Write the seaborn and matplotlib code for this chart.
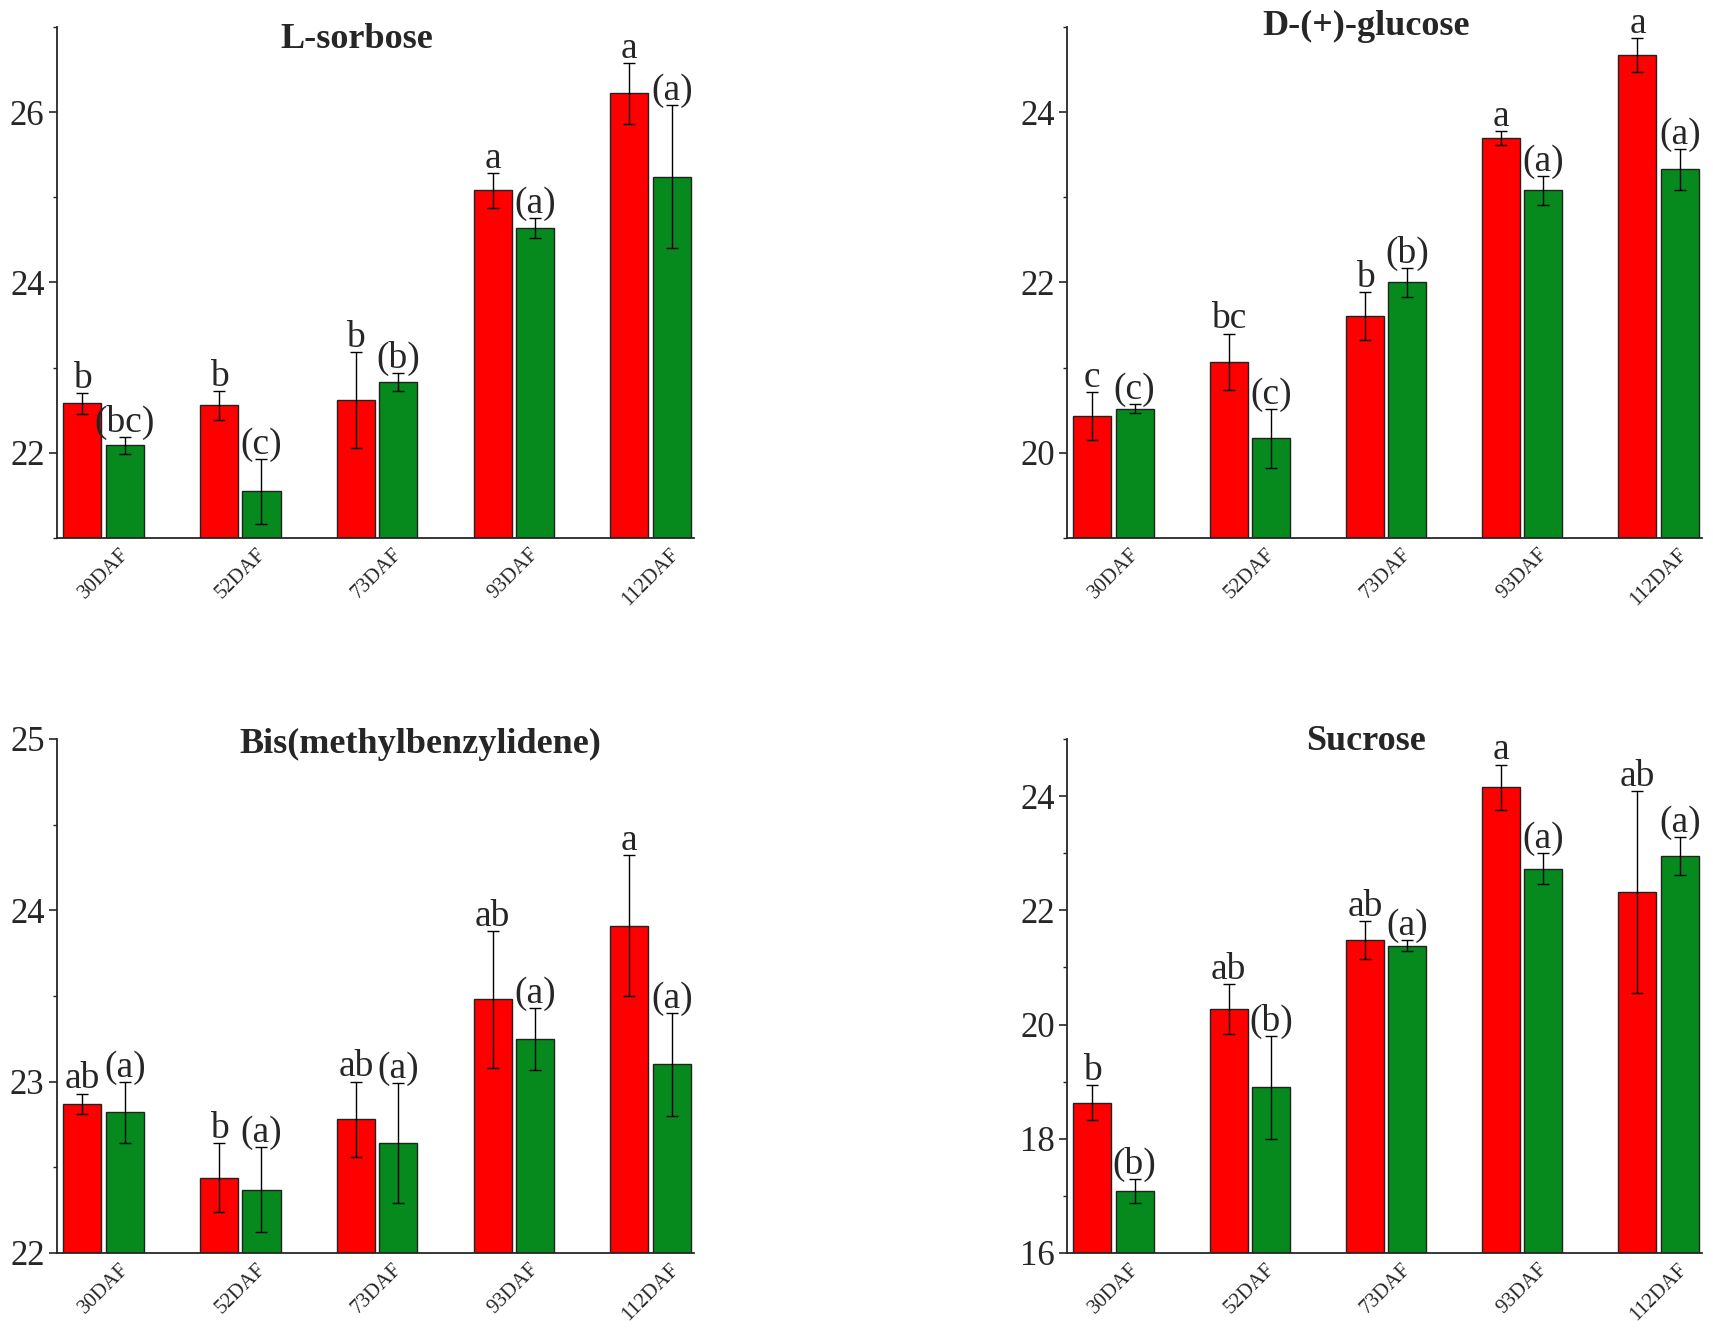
import pandas as pd
import matplotlib.pyplot as plt
import seaborn as sns
from matplotlib.ticker import MultipleLocator

sns.set_style('ticks')
plt.rcParams['font.family'] = ['Liberation Serif', 'DejaVu Serif']

stages = ['30DAF', '52DAF', '73DAF', '93DAF', '112DAF']
RED = '#ff0000'
GREEN = '#068a1e'

# L-sorbose
sorbose_red = [22.58, 22.56, 22.62, 25.08, 26.22]
sorbose_green = [22.09, 21.55, 22.83, 24.64, 25.24]
sorbose_red_err = [0.12, 0.17, 0.56, 0.20, 0.36]
sorbose_green_err = [0.10, 0.38, 0.11, 0.12, 0.84]
sorbose_red_sig = ['b', 'b', 'b', 'a', 'a']
sorbose_green_sig = ['(bc)', '(c)', '(b)', '(a)', '(a)']

# D-(+)-glucose
glucose_red = [20.43, 21.07, 21.61, 23.70, 24.67]
glucose_green = [20.52, 20.17, 22.00, 23.08, 23.33]
glucose_red_err = [0.28, 0.33, 0.28, 0.08, 0.20]
glucose_green_err = [0.05, 0.35, 0.17, 0.17, 0.24]
glucose_red_sig = ['c', 'bc', 'b', 'a', 'a']
glucose_green_sig = ['(c)', '(c)', '(b)', '(a)', '(a)']

# Bis(methylbenzylidene)
bis_red = [22.87, 22.44, 22.78, 23.48, 23.91]
bis_green = [22.82, 22.37, 22.64, 23.25, 23.10]
bis_red_err = [0.06, 0.20, 0.22, 0.40, 0.41]
bis_green_err = [0.18, 0.25, 0.35, 0.18, 0.30]
bis_red_sig = ['ab', 'b', 'ab', 'ab', 'a']
bis_green_sig = ['(a)', '(a)', '(a)', '(a)', '(a)']

# Sucrose
sucrose_red = [18.63, 20.27, 21.48, 24.15, 22.32]
sucrose_green = [17.09, 18.90, 21.38, 22.73, 22.95]
sucrose_red_err = [0.31, 0.44, 0.33, 0.40, 1.76]
sucrose_green_err = [0.21, 0.90, 0.10, 0.27, 0.33]
sucrose_red_sig = ['b', 'ab', 'ab', 'a', 'ab']
sucrose_green_sig = ['(b)', '(b)', '(a)', '(a)', '(a)']


def panel(ax, title, tpos, red, green, red_err, green_err, red_sig, green_sig,
          ylim, major, minor):
    df = pd.DataFrame({'stage': stages * 2,
                       'group': ['T1'] * 5 + ['T2'] * 5,
                       'value': red + green})
    sns.barplot(data=df, x='stage', y='value', hue='group', palette=[RED, GREEN],
                saturation=1, width=0.62, gap=0.1, errorbar=None,
                edgecolor='#222222', linewidth=1, legend=False, ax=ax)
    xs = [p.get_x() + p.get_width() / 2 for p in ax.patches]
    vals = red + green
    errs = red_err + green_err
    sigs = red_sig + green_sig
    ax.errorbar(xs, vals, yerr=errs, fmt='none', ecolor='black',
                elinewidth=1, capsize=4, capthick=1)
    off = (ylim[1] - ylim[0]) * 0.01
    for x, v, e, s in zip(xs, vals, errs, sigs):
        ax.text(x, v + e + off, s, ha='center', va='baseline', fontsize=27)

    ax.set_xlim(-0.34, 4.32)
    ax.set_ylim(*ylim)
    ax.yaxis.set_major_locator(MultipleLocator(major))
    ax.yaxis.set_minor_locator(MultipleLocator(minor))
    ax.tick_params(axis='y', which='major', labelsize=25, length=6, width=1.2,
                   pad=3)
    ax.tick_params(axis='y', which='minor', length=3, width=1)
    ax.tick_params(axis='x', length=0, labelsize=15, pad=5)
    plt.setp(ax.get_xticklabels(), rotation=45)
    ax.set_xlabel('')
    ax.set_ylabel('')
    sns.despine(ax=ax)
    for sp in ax.spines.values():
        sp.set_linewidth(1.3)
    ax.text(tpos[0], tpos[1], title, transform=ax.transAxes, ha='center',
            va='center', fontsize=26, fontweight='bold')


fig = plt.figure(figsize=(17.13, 13.29), dpi=100)
ax1 = fig.add_axes([0.0333, 0.5952, 0.372, 0.3845])
ax2 = fig.add_axes([0.623, 0.5952, 0.3707, 0.3845])
ax3 = fig.add_axes([0.0333, 0.0572, 0.372, 0.3868])
ax4 = fig.add_axes([0.623, 0.0572, 0.3707, 0.3868])

panel(ax1, 'L-sorbose', (0.47, 0.975), sorbose_red, sorbose_green,
      sorbose_red_err, sorbose_green_err, sorbose_red_sig, sorbose_green_sig,
      (21, 27), 2, 1)
panel(ax2, 'D-(+)-glucose', (0.47, 1.0), glucose_red, glucose_green,
      glucose_red_err, glucose_green_err, glucose_red_sig, glucose_green_sig,
      (19, 25), 2, 1)
panel(ax3, 'Bis(methylbenzylidene)', (0.57, 0.99), bis_red, bis_green,
      bis_red_err, bis_green_err, bis_red_sig, bis_green_sig,
      (22, 25), 1, 0.5)
panel(ax4, 'Sucrose', (0.47, 0.995), sucrose_red, sucrose_green,
      sucrose_red_err, sucrose_green_err, sucrose_red_sig, sucrose_green_sig,
      (16, 25), 2, 1)

fig.savefig('out.png', dpi=100)
